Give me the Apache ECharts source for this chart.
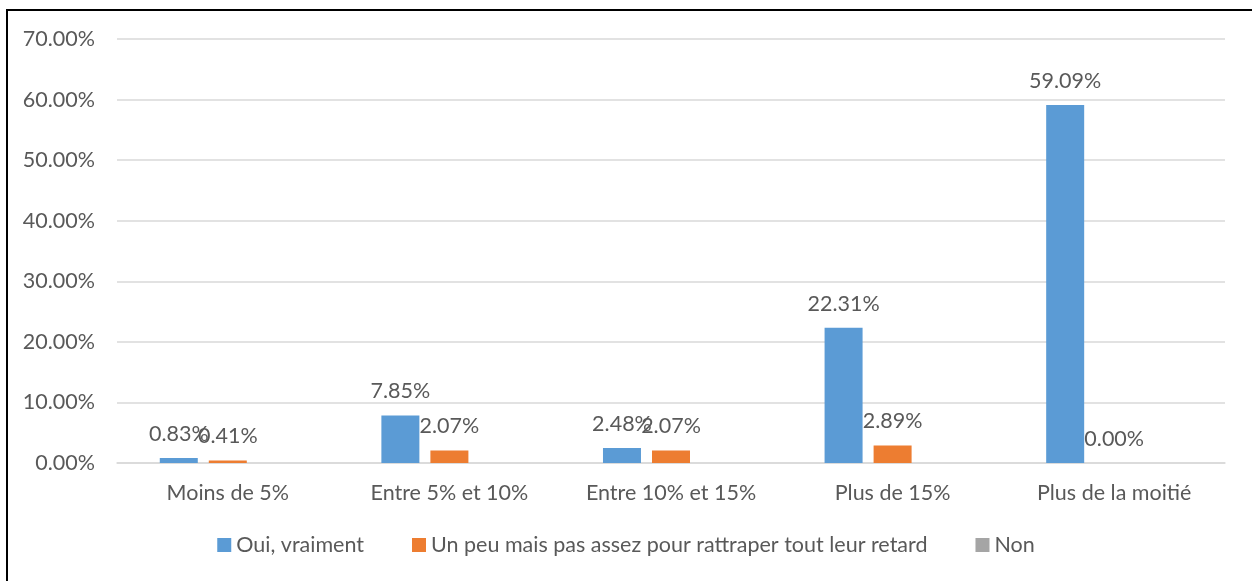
<!DOCTYPE html>
<html>
<head>
<meta charset="utf-8">
<script src="https://cdn.jsdelivr.net/npm/echarts@6/dist/echarts.min.js"></script>
<style>
  html, body { margin: 0; padding: 0; background: #fff; }
  #show_charts { width: 1252px; height: 581px; }
</style>
</head>
<body>
<div id="show_charts"></div>
<script>
// catégories et valeurs
var categories = ['Moins de 5%', 'Entre 5% et 10%', 'Entre 10% et 15%', 'Plus de 15%', 'Plus de la moitié'];
var seriesNames = ['Oui, vraiment', 'Un peu mais pas assez pour rattraper tout leur retard', 'Non'];
var ouiValues = [0.83, 7.85, 2.48, 22.31, 59.09];
var peuValues = [0.41, 2.07, 2.07, 2.89, 0.00];
var nonValues = ['-', '-', '-', '-', '-'];
var yTicks = { min: 0, max: 70, interval: 10 };

var textColor = '#595959';
var fontName = 'Lato';
var fontSize = 21.5;
var colors = ['#5B9BD5', '#ED7D31', '#A5A5A5'];

var all_data = [ouiValues, peuValues, nonValues];
var series = [];
for (var i = 0; i < all_data.length; i++) {
    series.push({
        name: seriesNames[i],
        type: 'bar',
        data: all_data[i],
        barWidth: 38,
        barGap: '29%',
        label: {
            show: true,
            position: 'top',
            distance: 13,
            color: textColor,
            fontFamily: fontName,
            fontSize: fontSize,
            formatter: function (p) {
                return Number(p.value).toFixed(2) + '%';
            }
        }
    });
}

var myChart = echarts.init(document.getElementById('show_charts'));
var option = {
    animation: false,
    color: colors,
    textStyle: { fontFamily: fontName },
    graphic: [{
        type: 'rect',
        shape: { x: 7, y: 10, width: 1400, height: 800 },
        style: { fill: 'none', stroke: '#000', lineWidth: 2 },
        z: 100
    }],
    grid: { left: 117, right: 27, top: 39, bottom: 118 },
    legend: {
        data: seriesNames,
        left: 'center',
        bottom: 20,
        itemWidth: 14,
        itemHeight: 14,
        itemGap: 48,
        icon: 'rect',
        textStyle: { color: textColor, fontFamily: fontName, fontSize: fontSize }
    },
    xAxis: {
        type: 'category',
        data: categories,
        axisLine: { lineStyle: { color: '#D9D9D9', width: 1.5 } },
        axisTick: { show: false },
        axisLabel: { color: textColor, fontFamily: fontName, fontSize: fontSize, margin: 19 }
    },
    yAxis: {
        type: 'value',
        min: yTicks.min,
        max: yTicks.max,
        interval: yTicks.interval,
        axisLine: { show: false },
        axisTick: { show: false },
        splitLine: { lineStyle: { color: '#D9D9D9', width: 1.5 } },
        axisLabel: {
            color: textColor, fontFamily: fontName, fontSize: fontSize, margin: 22,
            formatter: function (v) { return v.toFixed(2) + '%'; }
        }
    },
    series: series
};
myChart.setOption(option);
</script>
</body>
</html>
